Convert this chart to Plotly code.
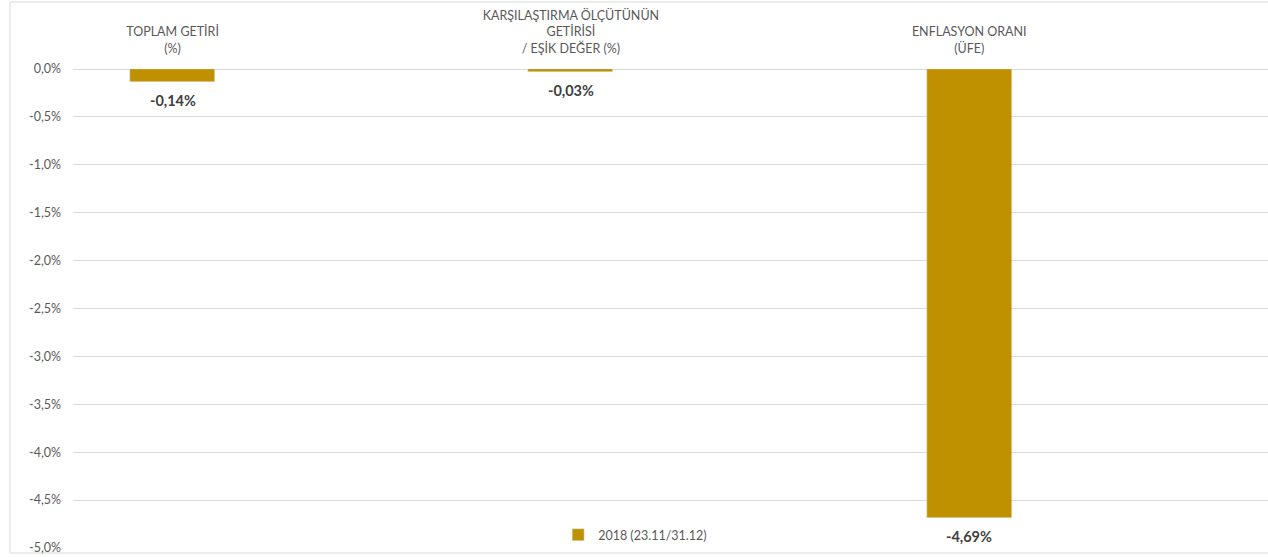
import plotly.graph_objects as go

categories = ["TOPLAM GETİRİ<br>(%)", "KARŞILAŞTIRMA ÖLÇÜTÜNÜN<br>GETİRİSİ<br>/ EŞİK DEĞER (%)", "ENFLASYON ORANI<br>(ÜFE)"]
values = [-0.14, -0.03, -4.69]
series_name = "2018 (23.11/31.12)"
y_ticks = [0, -0.5, -1.0, -1.5, -2.0, -2.5, -3.0, -3.5, -4.0, -4.5, -5.0]
y_tick_text = [("%.1f%%" % v).replace(".", ",") for v in y_ticks]
value_labels = [("%.2f%%" % v).replace(".", ",") for v in values]

bar_color = "#BF9000"
text_color = "#595959"
font_family = "Lato, 'Open Sans', sans-serif"

fig = go.Figure()
fig.add_trace(go.Bar(
    x=categories,
    y=values,
    name=series_name,
    marker=dict(color=bar_color),
    width=0.213,
    showlegend=True,
))

for c, v, t in zip(categories, values, value_labels):
    fig.add_annotation(x=c, y=v, text="<b>%s</b>" % t, showarrow=False,
                       yanchor="middle", yshift=-18.5,
                       font=dict(family=font_family, size=14.5, color="#404040"))

fig.update_layout(
    width=1268, height=557,
    margin=dict(l=73, r=0, t=69, b=9, autoexpand=False),
    paper_bgcolor="white", plot_bgcolor="white",
    font=dict(family=font_family, size=12.5, color=text_color),
    bargap=0,
    showlegend=True,
    legend=dict(orientation="h", x=0.406, y=0.027, xanchor="left", yanchor="middle",
                font=dict(size=12.5, color=text_color), bgcolor="rgba(0,0,0,0)",
                itemwidth=30),
    xaxis=dict(side="top", type="category", range=[-0.25, 2.75], automargin=False,
               showgrid=False, showline=False, ticks="", ticklabelstandoff=13,
               tickfont=dict(size=12.5, color=text_color)),
    yaxis=dict(range=[-5.0, 0.0], tickvals=y_ticks, ticktext=y_tick_text, automargin=False,
               showgrid=True, gridcolor="#D9D9D9", gridwidth=1,
               zeroline=True, zerolinecolor="#D9D9D9", zerolinewidth=1,
               showline=False, ticks="", ticklabelstandoff=11,
               tickfont=dict(size=12.5, color=text_color)),
    shapes=[dict(type="rect", xref="paper", yref="paper",
                 x0=(10 - 73) / 1195, x1=1.05, y0=(548 - 553) / 479, y1=(548 - 2) / 479,
                 line=dict(color="#D9D9D9", width=1), fillcolor="rgba(0,0,0,0)", layer="below")],
)

fig.write_html("out.html", config={"displayModeBar": False},
               post_script="document.body.style.margin='0';document.body.style.overflow='hidden';")
